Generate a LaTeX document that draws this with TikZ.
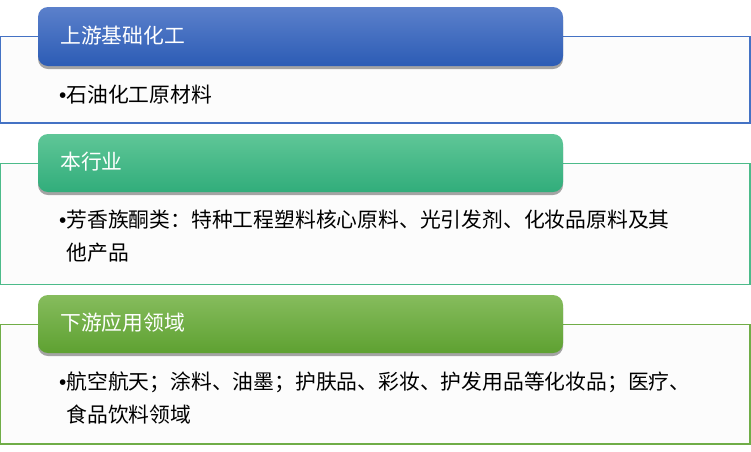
\documentclass[tikz,border=0pt]{standalone}
\usepackage{fontspec}
\newfontfamily\cjk{Noto Sans CJK SC}
\newfontfamily\latn{Liberation Sans}
\usetikzlibrary{shadows,calc}
\definecolor{bAline}{HTML}{4472C4}
\definecolor{bAtop}{HTML}{5B80CB}
\definecolor{bAbot}{HTML}{2C5CB5}
\definecolor{bBline}{HTML}{4CBB8A}
\definecolor{bBtop}{HTML}{5FC697}
\definecolor{bBbot}{HTML}{31AD7B}
\definecolor{bCline}{HTML}{70AD47}
\definecolor{bCtop}{HTML}{86BC5D}
\definecolor{bCbot}{HTML}{5EA131}
\definecolor{panelfill}{HTML}{FCFCFC}
\newcommand{\bul}{{\latn •}}
\tikzset{
  panel/.style={draw=#1, line width=1.2pt, fill=panelfill},
  header/.style 2 args={rounded corners=10pt, top color=#1, bottom color=#2, draw=none,
    drop shadow={shadow xshift=0pt, shadow yshift=-3pt, opacity=0.35, fill=black}},
  headtext/.style={anchor=base west, inner sep=0pt, text=white, font=\cjk\fontsize{20.8}{25}\selectfont},
  bodytext/.style={anchor=base west, inner sep=0pt, text=black, align=left, font=\cjk\fontsize{20.8}{33}\selectfont},
}
\begin{document}
\begin{tikzpicture}[x=1pt,y=-1pt]
\useasboundingbox (0,0) rectangle (751,451);
\fill[white] (0,0) rectangle (751,451);
% panels
\draw[panel=bAline] (0.6,36.5) rectangle (750,123) coordinate (pA);
\draw[panel=bBline] (0.6,163.5) rectangle (750,284.5) coordinate (pB);
\draw[panel=bCline] (0.6,324.5) rectangle (750,444) coordinate (pC);
% headers
\path[header={bAtop}{bAbot}] (38,7) rectangle (563,66);
\path[header={bBtop}{bBbot}] (38,134) rectangle (563,192);
\path[header={bCtop}{bCbot}] (38,295) rectangle (563,353);
\node[headtext] (hA) at (60,43) {上游基础化工};
\node[headtext] (hB) at (60,169) {本行业};
\node[headtext] (hC) at (60,330) {下游应用领域};
% body (base anchor = baseline of the last line)
\node[bodytext] (tA) at (59,102) {\bul 石油化工原材料};
\node[bodytext] (tB) at (59,260) {\bul 芳香族酮类：特种工程塑料核心原料、光引发剂、化妆品原料及其\\\phantom{\bul}他产品};
\node[bodytext] (tC) at (59,422) {\bul 航空航天；涂料、油墨；护肤品、彩妆、护发用品等化妆品；医疗、\\\phantom{\bul}食品饮料领域};
\end{tikzpicture}
\end{document}
